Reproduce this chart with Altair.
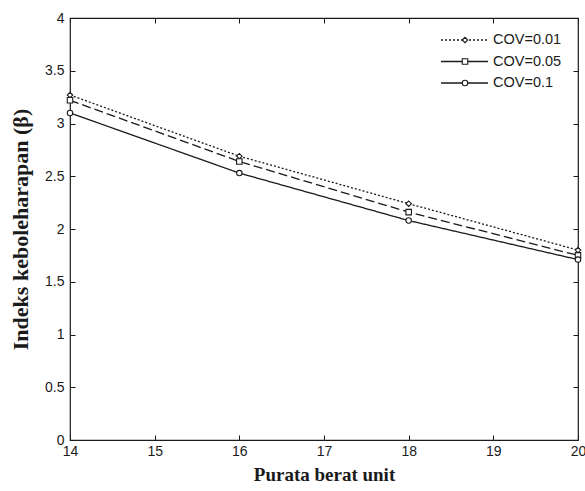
import altair as alt
import pandas as pd

# ---- data ----
x_vals = [14, 16, 18, 20]
series_names = ["COV=0.01", "COV=0.05", "COV=0.1"]
cov_001 = [3.27, 2.69, 2.24, 1.80]
cov_005 = [3.22, 2.64, 2.16, 1.75]
cov_01 = [3.10, 2.53, 2.08, 1.71]
x_ticks = [14, 15, 16, 17, 18, 19, 20]
y_ticks = [0, 0.5, 1, 1.5, 2, 2.5, 3, 3.5, 4]

rows = []
for name, vals in zip(series_names, [cov_001, cov_005, cov_01]):
    for xv, yv in zip(x_vals, vals):
        rows.append({"x": xv, "y": yv, "series": name})
df = pd.DataFrame(rows)

INK = "#1a1a1a"
dash_range = [[2, 2], [9, 4], [1, 0]]
shape_range = ["diamond", "square", "circle"]

xs = alt.Scale(domain=[14, 20], nice=False, zero=False)
ys = alt.Scale(domain=[0, 4], nice=False)

label_font = "Liberation Sans"
title_font = "Liberation Serif"

x_axis = alt.Axis(values=x_ticks, format="d", title="Purata berat unit", domain=False, grid=False,
                  tickSize=5, offset=-5, tickColor=INK, labelPadding=4, labelFlush=False,
                  labelFont=label_font, labelFontSize=14, labelColor=INK,
                  titleFont=title_font, titleFontSize=19, titleFontWeight="bold",
                  titleColor=INK, titlePadding=7)
y_axis = alt.Axis(values=y_ticks, format="~g", title="Indeks keboleharapan (β)", domain=False,
                  grid=False, tickSize=5, offset=-5, tickColor=INK, labelPadding=6, labelFlush=False,
                  labelFont=label_font, labelFontSize=14, labelColor=INK,
                  titleFont=title_font, titleFontSize=22, titleFontWeight="bold",
                  titleColor=INK, titlePadding=12)

base = alt.Chart(df)
lines = base.mark_line(color=INK, strokeWidth=1.3).encode(
    x=alt.X("x:Q", scale=xs, axis=x_axis),
    y=alt.Y("y:Q", scale=ys, axis=y_axis),
    strokeDash=alt.StrokeDash("series:N", scale=alt.Scale(domain=series_names, range=dash_range), legend=None),
    detail="series:N",
)
points = base.mark_point(filled=True, fill="white", stroke=INK, strokeWidth=1.1, size=30, opacity=1).encode(
    x=alt.X("x:Q", scale=xs),
    y=alt.Y("y:Q", scale=ys),
    shape=alt.Shape("series:N", scale=alt.Scale(domain=series_names, range=shape_range), legend=None),
)
main = alt.layer(lines, points)

ghost = base.mark_point(opacity=0).encode(
    x=alt.X("x:Q", scale=xs, axis=alt.Axis(orient="top", values=x_ticks, labels=False, title=None,
                                           domain=False, grid=False, tickSize=5, offset=-5, tickColor=INK)),
    y=alt.Y("y:Q", scale=ys, axis=alt.Axis(orient="right", values=y_ticks, labels=False, title=None,
                                           domain=False, grid=False, tickSize=5, offset=-5, tickColor=INK)),
)

# ---- legend (drawn manually, MATLAB style) ----
legend_layers = []
legend_dash = [[2, 2], [1, 0], [1, 0]]
for i, name in enumerate(series_names):
    ypos = 22 + 21.5 * i
    ldf = pd.DataFrame({"label": [name]})
    lc = alt.Chart(ldf)
    legend_layers.append(lc.mark_rule(color=INK, strokeWidth=1.3, strokeDash=legend_dash[i]).encode(
        x=alt.value(371), x2=alt.value(418), y=alt.value(ypos)))
    legend_layers.append(lc.mark_point(filled=True, fill="white", stroke=INK, strokeWidth=1.1, size=30,
                                       shape=shape_range[i], opacity=1).encode(
        x=alt.value(395), y=alt.value(ypos)))
    legend_layers.append(lc.mark_text(align="left", baseline="middle", font=label_font, fontSize=14.5,
                                      color=INK).encode(
        x=alt.value(423), y=alt.value(ypos), text="label:N"))

chart = alt.layer(main, ghost, *legend_layers).resolve_axis(
    x="independent", y="independent"
).properties(
    width=508, height=422,
    autosize=alt.AutoSizeParams(type="none"),
    padding={"left": 70, "top": 18, "right": 7, "bottom": 51},
    background="white",
).configure_view(stroke=INK, strokeWidth=1.2)

chart.save("out.html", embed_options={"renderer": "svg", "actions": False})
